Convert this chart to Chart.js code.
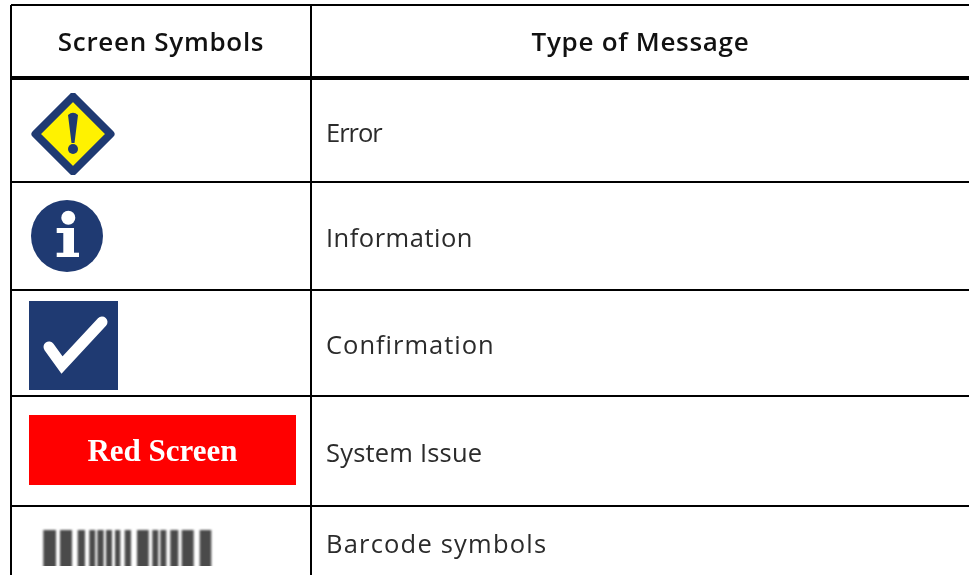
<!DOCTYPE html>
<html>
<head>
<meta charset="utf-8">
<style>
  html, body { margin: 0; padding: 0; background: #fff; }
  #wrap { width: 969px; height: 575px; }
</style>
<script src="https://cdn.jsdelivr.net/npm/chart.js@4/dist/chart.umd.min.js"></script>
</head>
<body>
<div id="wrap"><canvas id="tableChart"></canvas></div>
<script>
// table text
const headers = ["Screen Symbols", "Type of Message"];
const messageTypes = ["Error", "Information", "Confirmation", "System Issue", "Barcode symbols"];
const symbolNames = ["warning", "info", "check", "red", "barcode"];
const redLabel = "Red Screen";

// table lines, in table units (1 unit = 1 px of the picture)
const rowEdges = [0, 73, 177, 285, 391, 501];
const colEdges = [0, 300];
const headerRule = 73;

// where things sit in the table
const symbolX = [62, 56, 62.5, 151.5, 118];
const symbolY = [129, 231, 340.5, 445, 542];
const headerX = [150, 629.5];
const headerY = 39;
const messageX = 315;
const messageY = [130, 235, 342, 450, 541];
const redLabelY = 448;

// the font is not the picture's one, so each row gets its own spacing to keep the width
const messageSpacing = [-1, 0.5, 1, 0.2, 1.2];

// barcode bars: start and width, in px inside the symbol
const barStarts = [1.3, 18, 35.7, 47.3, 55.3, 64, 73, 82.7, 95, 110.3, 118.3, 128.3, 139.7, 157.7];
const barWidths = [12.7, 12, 7.3, 6, 6.4, 6, 5.3, 6.3, 11.7, 6, 6, 8, 12, 11.6];

const navy = "#1f3a72";

function makeCanvas(w, h) {
  const c = document.createElement("canvas");
  c.width = w;
  c.height = h;
  return c;
}

function warningIcon() {
  const c = makeCanvas(84, 82);
  const g = c.getContext("2d");
  g.lineJoin = "round";
  g.beginPath();
  g.moveTo(42, 3.5); g.lineTo(79.5, 41); g.lineTo(42, 78.5); g.lineTo(4.5, 41); g.closePath();
  g.fillStyle = "#fff200";
  g.fill();
  g.strokeStyle = navy;
  g.lineWidth = 8;
  g.stroke();
  // exclamation mark
  g.fillStyle = navy;
  g.beginPath();
  g.moveTo(37, 22); g.quadraticCurveTo(42, 17.5, 47, 22);
  g.lineTo(43.5, 50); g.lineTo(40.5, 50); g.closePath();
  g.fill();
  g.beginPath();
  g.arc(42, 56, 5, 0, Math.PI * 2);
  g.fill();
  return c;
}

function infoIcon() {
  const c = makeCanvas(74, 74);
  const g = c.getContext("2d");
  g.fillStyle = navy;
  g.beginPath();
  g.arc(37, 37, 36, 0, Math.PI * 2);
  g.fill();
  g.fillStyle = "#fff";
  g.beginPath();
  g.arc(38.3, 18.7, 7, 0, Math.PI * 2);
  g.fill();
  g.fillRect(26.7, 29, 17.3, 5);
  g.fillRect(33.3, 29, 10.7, 25);
  g.fillRect(26.7, 53.7, 22.3, 4.3);
  return c;
}

function checkIcon() {
  const c = makeCanvas(89, 89);
  const g = c.getContext("2d");
  g.fillStyle = navy;
  g.fillRect(0, 0, 89, 89);
  g.strokeStyle = "#fff";
  g.lineCap = "round";
  g.lineJoin = "miter";
  g.lineWidth = 11;
  g.beginPath();
  g.moveTo(20, 46); g.lineTo(33, 64); g.lineTo(73, 21);
  g.stroke();
  return c;
}

function redIcon() {
  const c = makeCanvas(267, 70);
  const g = c.getContext("2d");
  g.fillStyle = "#ff0000";
  g.fillRect(0, 0, 267, 70);
  return c;
}

function barcodeIcon() {
  const c = makeCanvas(176, 38);
  const g = c.getContext("2d");
  g.filter = "blur(0.9px)";
  g.fillStyle = "#4a4a4a";
  barStarts.forEach(function (s, i) {
    g.fillRect(s + 1, 2, barWidths[i], 44);
  });
  return c;
}

const symbolStyles = [warningIcon(), infoIcon(), checkIcon(), redIcon(), barcodeIcon()];

const symbolPoints = symbolNames.map(function (name, i) {
  return { x: symbolX[i], y: symbolY[i] };
});

// writes the table text at scale positions
const tableText = {
  id: "tableText",
  afterDatasetsDraw: function (chart) {
    const ctx = chart.ctx;
    const x = chart.scales.x;
    const y = chart.scales.y;
    ctx.save();
    ctx.textBaseline = "middle";

    ctx.textAlign = "center";
    ctx.fillStyle = "#111";
    ctx.font = "600 26px 'Open Sans'";
    ctx.letterSpacing = "0.7px";
    headers.forEach(function (h, i) {
      ctx.fillText(h, x.getPixelForValue(headerX[i]), y.getPixelForValue(headerY));
    });

    ctx.textAlign = "left";
    ctx.fillStyle = "#2b2b2b";
    ctx.font = "400 25.5px 'Open Sans'";
    messageTypes.forEach(function (m, i) {
      ctx.letterSpacing = messageSpacing[i] + "px";
      ctx.fillText(m, x.getPixelForValue(messageX), y.getPixelForValue(messageY[i]));
    });

    ctx.textAlign = "center";
    ctx.fillStyle = "#fff";
    ctx.font = "bold 31px 'Liberation Serif'";
    ctx.letterSpacing = "0px";
    ctx.fillText(redLabel, x.getPixelForValue(symbolX[3]), y.getPixelForValue(redLabelY));
    ctx.restore();
  }
};

new Chart(document.getElementById("tableChart"), {
  type: "scatter",
  data: {
    datasets: [{
      data: symbolPoints,
      pointStyle: symbolStyles,
      pointRadius: 1,
      clip: false
    }]
  },
  options: {
    responsive: true,
    maintainAspectRatio: false,
    animation: false,
    events: [],
    layout: { autoPadding: false, padding: { left: 11, top: 5, right: 0, bottom: 0 } },
    plugins: { legend: { display: false }, tooltip: { enabled: false } },
    scales: {
      x: {
        type: "linear",
        min: 0,
        max: 958,
        afterBuildTicks: function (axis) {
          axis.ticks = colEdges.map(function (v) { return { value: v }; });
        },
        ticks: { display: false },
        border: { display: false },
        grid: { color: "#000", lineWidth: 2, drawTicks: false }
      },
      y: {
        type: "linear",
        reverse: true,
        min: 0,
        max: 570,
        afterBuildTicks: function (axis) {
          axis.ticks = rowEdges.map(function (v) { return { value: v }; });
        },
        ticks: { display: false },
        border: { display: false },
        grid: {
          color: "#000",
          drawTicks: false,
          lineWidth: function (c) {
            return c.tick && c.tick.value === headerRule ? 4 : 2;
          }
        }
      }
    }
  },
  plugins: [tableText]
});
</script>
</body>
</html>
